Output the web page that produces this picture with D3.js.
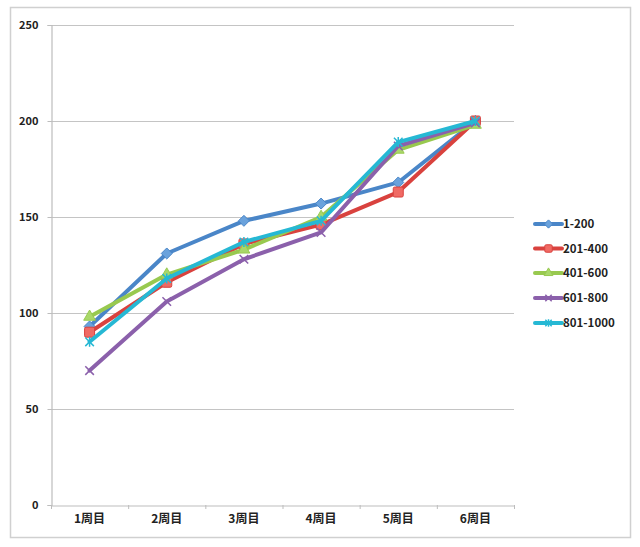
<!DOCTYPE html>
<html>
<head>
<meta charset="utf-8">
<script src="https://cdn.jsdelivr.net/npm/d3@7"></script>
<style>
html,body{margin:0;padding:0;background:#fff;}
svg{display:block;}
text{font-family:"Noto Sans CJK JP","DejaVu Sans",sans-serif;}
</style>
</head>
<body>
<script>
const categories = ["1周目","2周目","3周目","4周目","5周目","6周目"];
const seriesNames = ["1-200","201-400","401-600","601-800","801-1000"];
const s1 = [93, 131, 148, 157, 168, 200];
const s2 = [90, 116, 136, 146, 163, 200];
const s3 = [98, 120, 133, 150, 185, 198];
const s4 = [70, 106, 128, 142, 187, 199];
const s5 = [85, 118, 137, 148, 189, 200];
const yTicks = [0, 50, 100, 150, 200, 250];
const colors = ["#4a86c8","#d9423e","#98c94f","#8b60ab","#26b8d4"];
const markers = ["diamond","square","triangle","x","star"];

const seriesValues = [s1,s2,s3,s4,s5];

(function(){
const W = 640, H = 547;
const svg = d3.select("body").append("svg").attr("width", W).attr("height", H);

// outer border
svg.append("rect").attr("x",10.5).attr("y",7.5).attr("width",620).attr("height",530)
  .attr("fill","#fff").attr("stroke","#d0d0d0").attr("stroke-width",1.5);

const mLeft = 51, mRight = 514, mTop = 25, mBottom = 505;
const x = d3.scaleBand().domain(categories).range([mLeft, mRight]);
const y = d3.scaleLinear().domain([0, 250]).range([mBottom, mTop]);

// gridlines
svg.append("g").selectAll("line").data(yTicks.filter(d=>d>0)).join("line")
  .attr("x1", mLeft).attr("x2", mRight)
  .attr("y1", d=>y(d)+0.5).attr("y2", d=>y(d)+0.5)
  .attr("stroke","#c4c4c4").attr("stroke-width",1.2);

// y axis
const yAxis = svg.append("g").attr("transform",`translate(${mLeft+0.5},0)`)
  .call(d3.axisLeft(y).tickValues(yTicks).tickSize(4).tickPadding(9));
yAxis.select(".domain").attr("stroke","#bdbdbd").attr("stroke-width",1.2);
yAxis.selectAll(".tick line").attr("stroke","#bdbdbd");
yAxis.selectAll("text").attr("font-size",11).attr("fill","#222").attr("font-weight",600)
  .attr("font-family","\"Open Sans\",\"DejaVu Sans\",sans-serif");

// x axis
const xAxis = svg.append("g").attr("transform",`translate(0,${mBottom+0.5})`)
  .call(d3.axisBottom(x).tickSize(0).tickPadding(9));
xAxis.select(".domain").attr("stroke","#bdbdbd").attr("stroke-width",1.2);
xAxis.selectAll("text").attr("font-size",12).attr("fill","#222").attr("font-weight",700);
// x ticks at band boundaries
svg.append("g").selectAll("line").data(categories.concat(["__end"])).join("line")
  .attr("x1", (d,i)=> mLeft + i*x.step() + 0.5).attr("x2",(d,i)=> mLeft + i*x.step() + 0.5)
  .attr("y1", mBottom).attr("y2", mBottom+4).attr("stroke","#bdbdbd");

const cx = c => x(c) + x.bandwidth()/2;

function drawMarker(g, type, color, px, py, scale) {
  const s = scale || 1;
  if (type === "diamond") {
    const r = 5.5*s;
    g.append("path").attr("d", `M${px},${py-r}L${px+r},${py}L${px},${py+r}L${px-r},${py}Z`)
      .attr("fill", "#6aa2dc").attr("stroke", color).attr("stroke-width",1);
  } else if (type === "square") {
    g.append("rect").attr("x", px-5*s).attr("y", py-5*s).attr("width",10*s).attr("height",10*s)
      .attr("rx",1.5).attr("fill","#f06a64").attr("stroke",color).attr("stroke-width",1);
  } else if (type === "triangle") {
    g.append("path").attr("d", d3.symbol(d3.symbolTriangle, 60*s*s)())
      .attr("transform",`translate(${px},${py})`).attr("fill","#a9d86a").attr("stroke",color).attr("stroke-width",1);
  } else if (type === "x") {
    g.append("path").attr("d", d3.symbol(d3.symbolX, 50*s*s)())
      .attr("transform",`translate(${px},${py})`).attr("fill","none").attr("stroke",color).attr("stroke-width",1.5);
  } else if (type === "star") {
    g.append("path").attr("d", d3.symbol(d3.symbolX, 50*s*s)())
      .attr("transform",`translate(${px},${py})`).attr("fill","none").attr("stroke",color).attr("stroke-width",1.5);
    g.append("line").attr("x1",px).attr("x2",px).attr("y1",py-5*s).attr("y2",py+5*s)
      .attr("stroke",color).attr("stroke-width",1.5);
  }
}

const line = d3.line().x((d,i)=>cx(categories[i])).y(d=>y(d));

seriesValues.forEach((vals, k) => {
  const g = svg.append("g");
  g.append("path").datum(vals).attr("d", line)
    .attr("fill","none").attr("stroke", colors[k]).attr("stroke-width",4)
    .attr("stroke-linejoin","round").attr("stroke-linecap","round");
  vals.forEach((v,i) => drawMarker(g, markers[k], colors[k], cx(categories[i]), y(v), 1));
});

// legend
const legendY = [224, 248.5, 273, 298, 323];
const lg = svg.append("g");
seriesNames.forEach((name, k) => {
  const ly = legendY[k];
  lg.append("line").attr("x1",535).attr("x2",562).attr("y1",ly).attr("y2",ly)
    .attr("stroke",colors[k]).attr("stroke-width",4).attr("stroke-linecap","round");
  drawMarker(lg, markers[k], colors[k], 548.5, ly, 0.75);
  lg.append("text").attr("x",563).attr("y",ly).attr("dy","0.35em")
    .attr("font-size",11.5).attr("fill","#222").attr("font-weight",600)
    .attr("font-family","\"Open Sans\",\"DejaVu Sans\",sans-serif")
    .text(name);
});
})();
</script>
</body>
</html>
